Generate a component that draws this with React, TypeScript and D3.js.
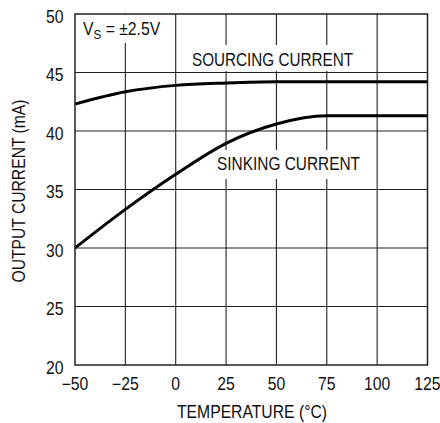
import React from "react";
import * as d3 from "d3";

const temps = [-50, -25, 0, 25, 50, 75, 100, 125];
const sourcing = [42.3, 43.35, 43.9, 44.1, 44.2, 44.2, 44.2, 44.2];
const sinking = [30.0, 33.3, 36.3, 38.95, 40.6, 41.3, 41.3, 41.3];
const xTicks = [-50, -25, 0, 25, 50, 75, 100, 125];
const yTicks = [20, 25, 30, 35, 40, 45, 50];

const W = 440, H = 423;
const M = { left: 75, right: 427.5, top: 14, bottom: 365 };
const FONT = "'Liberation Sans', Arial, sans-serif";
const FS = 17.5;
const SX = 0.9;

function CText({ x, y, anchor = "start", children, rotate = 0 }: any) {
  return (
    <g transform={`translate(${x},${y}) rotate(${rotate}) scale(${SX},1)`}>
      <text x={0} y={0} textAnchor={anchor} fontSize={FS} fill="#111">
        {children}
      </text>
    </g>
  );
}

export default function App() {
  const x = d3.scaleLinear().domain([-50, 125]).range([M.left, M.right]);
  const y = d3.scaleLinear().domain([20, 50]).range([M.bottom, M.top]);
  const line = d3
    .line<number>()
    .x((_, i) => x(temps[i]))
    .y((d) => y(d))
    .curve(d3.curveMonotoneX);
  const fmt = (t: number) => (t < 0 ? "\u2212" + Math.abs(t) : String(t));
  return (
    <svg width={W} height={H} style={{ position: "absolute", left: 0, top: 0, background: "#fff" }} fontFamily={FONT}>
      <rect x={0} y={0} width={W} height={H} fill="#fff" />
      {xTicks.slice(1, -1).map((t) => (
        <line key={"gx" + t} x1={x(t)} x2={x(t)} y1={M.top} y2={M.bottom} stroke="#222" strokeWidth={1.1} />
      ))}
      {yTicks.slice(1, -1).map((t) => (
        <line key={"gy" + t} x1={M.left} x2={M.right} y1={y(t)} y2={y(t)} stroke="#222" strokeWidth={1.1} />
      ))}
      {/* label backgrounds */}
      <rect x={76} y={15} width={94} height={28} fill="#fff" />
      <rect x={188} y={45} width={170} height={26} fill="#fff" />
      <rect x={213} y={150} width={151} height={29} fill="#fff" />
      <path d={line(sourcing) || ""} fill="none" stroke="#000" strokeWidth={3} />
      <path d={line(sinking) || ""} fill="none" stroke="#000" strokeWidth={3} />
      <rect x={M.left} y={M.top} width={M.right - M.left} height={M.bottom - M.top} fill="none" stroke="#222" strokeWidth={1.5} />
      <CText x={83} y={35}>
        V<tspan fontSize={13} dy={4}>S</tspan>
        <tspan dy={-4}> = ±2.5V</tspan>
      </CText>
      <text x={192} y={65.5} fontSize={FS} fill="#111" textLength={161} lengthAdjust="spacingAndGlyphs">
        SOURCING CURRENT
      </text>
      <text x={217} y={170} fontSize={FS} fill="#111" textLength={143} lengthAdjust="spacingAndGlyphs">
        SINKING CURRENT
      </text>
      {yTicks.map((t) => (
        <CText key={"yl" + t} x={63.5} y={y(t) + 8.5} anchor="end">
          {t}
        </CText>
      ))}
      {xTicks.map((t) => (
        <CText key={"xl" + t} x={x(t)} y={390} anchor="middle">
          {fmt(t)}
        </CText>
      ))}
      <text x={177} y={418} fontSize={FS} fill="#111" textLength={150} lengthAdjust="spacingAndGlyphs">
        TEMPERATURE (°C)
      </text>
      <text
        transform={`translate(25,${191 + 91.5}) rotate(-90)`}
        fontSize={FS}
        fill="#111"
        textLength={183}
        lengthAdjust="spacingAndGlyphs"
      >
        OUTPUT CURRENT (mA)
      </text>
    </svg>
  );
}
